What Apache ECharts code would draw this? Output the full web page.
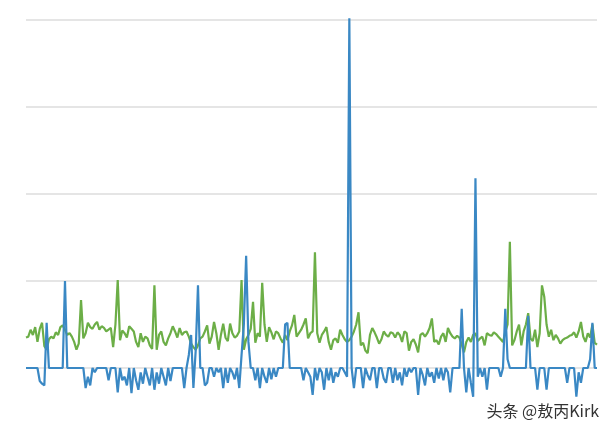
<!DOCTYPE html>
<html>
<head>
<meta charset="utf-8">
<script src="https://cdn.jsdelivr.net/npm/echarts@6/dist/echarts.min.js"></script>
<style>html,body{margin:0;padding:0;background:#fff;}#c{width:612px;height:436px;}</style>
</head>
<body>
<div id="c"></div>
<script>
// Y tick values (labels hidden in the reference)
const yTicks = [0, 1, 2, 3, 4];

// Green series
const greenValues = [
0.35,0.36,0.44,0.38,0.47,0.30,0.45,0.52,0.25,0.21,
0.33,0.36,0.34,0.41,0.38,0.47,0.49,0.44,0.38,0.40,
0.36,0.30,0.21,0.28,0.78,0.34,0.40,0.52,0.47,0.45,
0.50,0.53,0.44,0.48,0.46,0.42,0.44,0.46,0.24,0.50,
1.01,0.32,0.43,0.40,0.35,0.48,0.45,0.42,0.30,0.24,
0.40,0.30,0.36,0.34,0.26,0.22,0.95,0.21,0.38,0.42,
0.30,0.26,0.34,0.40,0.48,0.42,0.35,0.46,0.38,0.41,
0.42,0.36,0.28,0.24,0.21,0.26,0.34,0.36,0.42,0.49,
0.28,0.36,0.53,0.40,0.21,0.38,0.51,0.35,0.31,0.51,
0.40,0.35,0.37,0.42,1.01,0.21,0.33,0.38,0.45,0.76,
0.29,0.40,0.36,0.98,0.50,0.30,0.47,0.41,0.33,0.42,
0.40,0.34,0.29,0.38,0.32,0.42,0.49,0.61,0.36,0.40,
0.44,0.50,0.57,0.34,0.40,0.42,1.33,0.40,0.29,0.38,
0.42,0.47,0.30,0.21,0.32,0.34,0.29,0.44,0.38,0.33,
0.30,0.32,0.36,0.42,0.50,0.64,0.26,0.29,0.20,0.17,
0.38,0.46,0.41,0.35,0.28,0.33,0.42,0.38,0.36,0.41,
0.40,0.35,0.41,0.38,0.30,0.42,0.40,0.20,0.30,0.33,
0.27,0.18,0.38,0.40,0.36,0.40,0.46,0.57,0.30,0.32,
0.27,0.36,0.40,0.30,0.46,0.40,0.36,0.34,0.37,0.35,
0.27,0.18,0.30,0.35,0.30,0.38,0.40,0.31,0.34,0.36,
0.26,0.40,0.38,0.37,0.41,0.39,0.36,0.33,0.30,0.41,
0.50,1.45,0.26,0.32,0.42,0.50,0.26,0.42,0.50,0.63,
0.34,0.31,0.44,0.24,0.40,0.95,0.82,0.50,0.36,0.44,
0.32,0.38,0.34,0.28,0.32,0.34,0.35,0.37,0.38,0.41,
0.35,0.42,0.53,0.36,0.30,0.40,0.35,0.50,0.29,0.27
];

// Blue series
const blueValues = [
0,0,0,0,0,0,-0.15,-0.18,-0.20,0.52,
0,0,0,0,0,0,0,1.00,0,0,
0,0,0,0,0,0,-0.23,-0.10,-0.20,0,
-0.05,0,0,0,0,0,-0.14,0,0,0,
-0.28,0,-0.14,-0.10,-0.20,0,-0.29,0,-0.14,-0.25,
-0.05,-0.18,0,-0.10,-0.20,0,-0.25,-0.05,-0.18,0,
-0.10,-0.20,0,-0.15,0,0,0,0,0,-0.23,
0,0.15,0.38,-0.23,0.20,0.95,0,0,-0.20,-0.17,
0,0,-0.10,0,-0.05,0,-0.23,0,-0.17,0,
-0.05,-0.13,0,-0.23,0.15,0.50,1.29,0.30,0,0,
-0.14,0,-0.23,0,-0.10,-0.17,0,-0.13,0,-0.10,
0,0,0,0.50,0.52,0,0,0,0,0,
0,-0.14,0,-0.05,-0.10,-0.31,0,-0.14,0,-0.05,
-0.25,0,-0.14,0,-0.17,-0.05,-0.10,0,0,-0.05,
-0.10,4.02,0,-0.23,0,0,0,-0.23,0,-0.08,
-0.14,0,0,-0.23,0,0,-0.12,-0.17,0,0,
-0.17,0,-0.14,-0.05,-0.20,0,-0.10,0,-0.05,0,
0,-0.31,0,-0.08,-0.20,0,-0.10,-0.05,-0.17,0,
-0.12,0,-0.14,0,-0.05,-0.28,0,0,0,0,
0.68,0,-0.28,0,-0.17,-0.33,2.18,-0.10,0,-0.10,
0,-0.25,0,0,0,0,0,-0.10,0,0.68,
0.10,0,0,0,0,0,0,0,0,0.60,
0,0,0,-0.25,0,0,0,-0.25,0,0,
0,0,0,0,0,0,-0.17,0,0,0,
-0.33,-0.05,-0.17,0,0,0,0.10,0.52,0,0
];

const categories = greenValues.map((_, i) => String(i + 1));

const chart = echarts.init(document.getElementById('c'), null, {renderer: 'canvas'});
chart.setOption({
  animation: false,
  backgroundColor: '#ffffff',
  grid: {left: 26, right: 15, top: 20, bottom: 68, containLabel: false},
  xAxis: {
    type: 'category', data: categories, boundaryGap: false,
    axisLine: {show: false}, axisTick: {show: false}, axisLabel: {show: false}, splitLine: {show: false}
  },
  yAxis: {
    type: 'value', min: yTicks[0], max: yTicks[yTicks.length - 1], interval: 1,
    axisLine: {show: false}, axisTick: {show: false}, axisLabel: {show: false},
    splitLine: {show: true, lineStyle: {color: '#dcdcdc', width: 1.5}}
  },
  series: [
    {type: 'line', data: greenValues, symbol: 'none', clip: false,
     lineStyle: {color: '#6cae47', width: 2.2}, itemStyle: {color: '#6cae47'}, z: 2},
    {type: 'line', data: blueValues, symbol: 'none', clip: false,
     lineStyle: {color: '#3a88c4', width: 2.2}, itemStyle: {color: '#3a88c4'}, z: 3}
  ],
  graphic: [{
    type: 'text', right: 13, top: 403,
    style: {text: '头条 @敖丙Kirk', fill: '#333333', font: '16px "Noto Sans CJK SC", sans-serif'}
  }]
});
</script>
</body>
</html>
